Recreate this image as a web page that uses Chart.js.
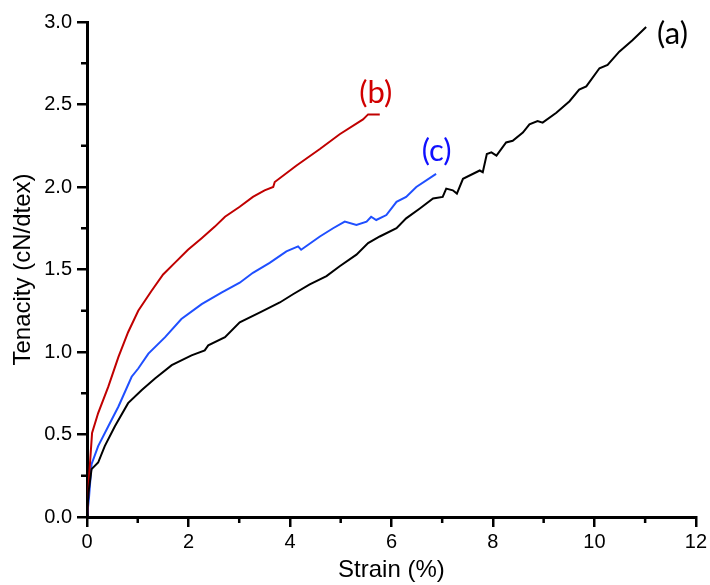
<!DOCTYPE html>
<html>
<head>
<meta charset="utf-8">
<script src="https://cdn.jsdelivr.net/npm/chart.js@4"></script>
<style>
  html, body { margin: 0; padding: 0; background: #ffffff; }
  #wrap { width: 710px; height: 585px; }
</style>
</head>
<body>
<div id="wrap"><canvas id="chart" width="710" height="585"></canvas></div>
<script>
// Tensile curves: strain (%) vs tenacity (cN/dtex)
const aStrain = [0, 0.03, 0.09, 0.22, 0.35, 0.55, 0.81, 1.08, 1.34, 1.67, 2.06, 2.32, 2.39, 2.72, 3.01, 3.41, 3.80, 4.06, 4.39, 4.72, 4.98, 5.31, 5.54, 5.77, 6.10, 6.29, 6.56, 6.82, 7.01, 7.08, 7.21, 7.29, 7.41, 7.74, 7.80, 7.88, 7.97, 8.07, 8.26, 8.39, 8.59, 8.72, 8.88, 8.98, 9.25, 9.51, 9.70, 9.84, 10.10, 10.26, 10.49, 10.75, 11.02];
const aTenacity = [0, 0.15, 0.29, 0.33, 0.43, 0.55, 0.69, 0.77, 0.84, 0.92, 0.98, 1.01, 1.04, 1.09, 1.18, 1.24, 1.30, 1.35, 1.41, 1.46, 1.52, 1.59, 1.66, 1.70, 1.75, 1.81, 1.87, 1.93, 1.94, 1.99, 1.98, 1.96, 2.05, 2.10, 2.09, 2.20, 2.21, 2.19, 2.27, 2.28, 2.33, 2.38, 2.40, 2.39, 2.45, 2.52, 2.59, 2.61, 2.72, 2.74, 2.82, 2.89, 2.97];

const bStrain = [0, 0.02, 0.04, 0.10, 0.22, 0.42, 0.62, 0.81, 1.01, 1.27, 1.50, 1.73, 1.99, 2.26, 2.52, 2.72, 3.01, 3.27, 3.50, 3.67, 3.70, 4.13, 4.59, 4.98, 5.44, 5.54, 5.77];
const bTenacity = [0, 0.10, 0.24, 0.51, 0.63, 0.79, 0.97, 1.12, 1.25, 1.37, 1.47, 1.54, 1.62, 1.69, 1.76, 1.82, 1.88, 1.94, 1.98, 2.00, 2.03, 2.13, 2.23, 2.32, 2.41, 2.44, 2.44];

const cStrain = [0, 0.04, 0.09, 0.22, 0.42, 0.62, 0.88, 1.01, 1.21, 1.54, 1.86, 2.26, 2.65, 3.01, 3.27, 3.60, 3.93, 4.16, 4.22, 4.59, 4.85, 5.08, 5.31, 5.51, 5.60, 5.70, 5.90, 6.10, 6.29, 6.49, 6.88];
const cTenacity = [0, 0.12, 0.32, 0.43, 0.55, 0.67, 0.85, 0.90, 0.99, 1.09, 1.20, 1.29, 1.36, 1.42, 1.48, 1.54, 1.61, 1.64, 1.62, 1.70, 1.75, 1.79, 1.77, 1.79, 1.82, 1.80, 1.83, 1.91, 1.94, 2.00, 2.08];

const seriesNames = ['(a)', '(b)', '(c)'];
const seriesColors = ['#000000', '#c00000', '#1f4fff'];
const labelColors = ['#000000', '#d10000', '#1010ff'];
// curve labels placed in data coordinates (strain, tenacity)
const labelStrain = [11.54, 5.69, 6.89];
const labelTenacity = [2.93, 2.57, 2.22];

const xMinorTicks = [1, 3, 5, 7, 9, 11];
const yMinorTicks = [0.25, 0.75, 1.25, 1.75, 2.25, 2.75];

function toPoints(xs, ys) { return xs.map((x, i) => ({ x: x, y: ys[i] })); }

const curves = [[aStrain, aTenacity], [bStrain, bTenacity], [cStrain, cTenacity]];

const datasets = curves.map((c, i) => ({
  label: seriesNames[i],
  data: toPoints(c[0], c[1]),
  showLine: true,
  borderColor: seriesColors[i],
  backgroundColor: seriesColors[i],
  borderWidth: 2,
  pointRadius: 0,
  tension: 0,
  fill: false
}));

const tickFont = { family: "'Liberation Sans', Arial, sans-serif", size: 20 };
const titleFont = { family: "'Liberation Sans', Arial, sans-serif", size: 24 };

const extras = {
  id: 'extras',
  afterDraw(chart) {
    const ctx = chart.ctx;
    const xs = chart.scales.x, ys = chart.scales.y;
    ctx.save();
    ctx.strokeStyle = '#000';
    ctx.lineWidth = 2.5;
    ctx.beginPath();
    xMinorTicks.forEach(v => {
      const px = xs.getPixelForValue(v);
      ctx.moveTo(px, xs.top);
      ctx.lineTo(px, xs.top + 6);
    });
    yMinorTicks.forEach(v => {
      const py = ys.getPixelForValue(v);
      ctx.moveTo(ys.right, py);
      ctx.lineTo(ys.right - 6, py);
    });
    ctx.stroke();
    ctx.font = "31px Lato, 'Open Sans', sans-serif";
    ctx.textAlign = 'center';
    ctx.textBaseline = 'middle';
    seriesNames.forEach((name, i) => {
      ctx.fillStyle = labelColors[i];
      ctx.fillText(name, xs.getPixelForValue(labelStrain[i]), ys.getPixelForValue(labelTenacity[i]));
    });
    ctx.restore();
  }
};

new Chart(document.getElementById('chart'), {
  type: 'scatter',
  data: { datasets: datasets },
  options: {
    responsive: false,
    animation: false,
    devicePixelRatio: 1,
    layout: { padding: { top: 22, right: 13, left: 0, bottom: 0 } },
    plugins: { legend: { display: false }, tooltip: { enabled: false } },
    scales: {
      x: {
        type: 'linear',
        min: 0, max: 12,
        afterFit(scale) { scale.height = 68; },
        ticks: { stepSize: 2, color: '#000', font: tickFont, padding: 3, maxRotation: 0 },
        grid: { display: true, drawOnChartArea: false, drawTicks: true, tickLength: 10, color: '#000', lineWidth: 2.5 },
        border: { display: true, color: '#000', width: 3 },
        title: { display: true, text: 'Strain (%)', color: '#000', font: titleFont, padding: { top: 0, bottom: 0 } }
      },
      y: {
        type: 'linear',
        min: 0, max: 3,
        afterFit(scale) { scale.width = 87; },
        ticks: { stepSize: 0.5, color: '#000', font: tickFont, padding: 5, callback: v => v.toFixed(1) },
        grid: { display: true, drawOnChartArea: false, drawTicks: true, tickLength: 10, color: '#000', lineWidth: 2.5 },
        border: { display: true, color: '#000', width: 3 },
        title: { display: true, text: 'Tenacity (cN/dtex)', color: '#000', font: titleFont, padding: { top: 9, bottom: 0 } }
      }
    }
  },
  plugins: [extras]
});
</script>
</body>
</html>
